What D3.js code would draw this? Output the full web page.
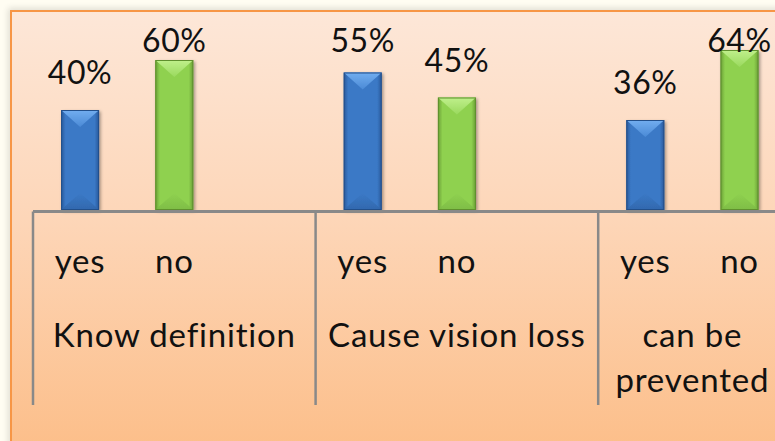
<!DOCTYPE html>
<html>
<head>
<meta charset="utf-8">
<script src="https://cdn.jsdelivr.net/npm/d3@7"></script>
<style>
  html, body { margin: 0; padding: 0; background: #fffdf2; overflow: hidden; }
  svg { display: block; font-family: Lato, "Open Sans", sans-serif; font-variant-ligatures: none; }
</style>
</head>
<body>
<script>
// chart values
var subLabels = ["yes", "no", "", "yes", "no", "", "yes", "no"];
var groupLabels = [["Know definition"], ["Cause vision loss"], ["can be", "prevented"]];
var groupStarts = [0, 3, 6];
var groupEnds = [3, 6, 8];
var yesValues = [40, 55, 36];
var noValues = [60, 45, 64];

var W = 775, H = 441;
var svg = d3.select("body").append("svg").attr("width", W).attr("height", H);
var defs = svg.append("defs");

// background gradient of the chart area
var bg = defs.append("linearGradient").attr("id", "bg").attr("x1", 0).attr("y1", 0).attr("x2", 0).attr("y2", 1);
bg.append("stop").attr("offset", "0%").attr("stop-color", "#fde7d8");
bg.append("stop").attr("offset", "45%").attr("stop-color", "#fdd6b8");
bg.append("stop").attr("offset", "100%").attr("stop-color", "#fcbc85");

var sh = defs.append("filter").attr("id", "outer").attr("x", "-10%").attr("y", "-10%").attr("width", "120%").attr("height", "120%");
sh.append("feGaussianBlur").attr("stdDeviation", 3);

var bs = defs.append("filter").attr("id", "barShadow").attr("x", "-30%").attr("y", "-10%").attr("width", "160%").attr("height", "120%");
bs.append("feDropShadow").attr("dx", 1.5).attr("dy", 1.5).attr("stdDeviation", 1.5).attr("flood-color", "#000").attr("flood-opacity", 0.35);

function sideGrad(id, edge, mid) {
	var g = defs.append("linearGradient").attr("id", id).attr("x1", 0).attr("y1", 0).attr("x2", 1).attr("y2", 0);
	g.append("stop").attr("offset", "0%").attr("stop-color", edge);
	g.append("stop").attr("offset", "12%").attr("stop-color", mid);
	g.append("stop").attr("offset", "88%").attr("stop-color", mid);
	g.append("stop").attr("offset", "100%").attr("stop-color", edge);
}
function vGrad(id, c1, c2) {
	var g = defs.append("linearGradient").attr("id", id).attr("x1", 0).attr("y1", 0).attr("x2", 0).attr("y2", 1);
	g.append("stop").attr("offset", "0%").attr("stop-color", c1);
	g.append("stop").attr("offset", "100%").attr("stop-color", c2);
}
sideGrad("blueBody", "#28589a", "#3b79c6");
sideGrad("greenBody", "#6a9e34", "#8fd150");
vGrad("blueTop", "#72aef0", "#4b8ad6");
vGrad("greenTop", "#c0f08c", "#9ad95e");
vGrad("blueBot", "#3b79c6", "#2f64a8");
vGrad("greenBot", "#8fd150", "#7ab843");

// outer frame
svg.append("rect").attr("x", 8).attr("y", 8).attr("width", W + 20).attr("height", H + 20)
	.attr("fill", "#000").attr("opacity", 0.12).attr("filter", "url(#outer)");
svg.append("rect").attr("x", 11).attr("y", 11).attr("width", W + 20).attr("height", H + 20)
	.attr("fill", "url(#bg)").attr("stroke", "#f79646").attr("stroke-width", 2);

// scales
var x = d3.scaleBand().domain(d3.range(subLabels.length)).range([33, 786.6]);
var y = d3.scaleLinear().domain([0, 84]).range([210, 0]);
var barW = 38;
var axisY = 211.5, axisBottom = 405;

var bars = [];
groupStarts.forEach(function (s, i) {
	bars.push({slot: s, value: yesValues[i], kind: "blue"});
	bars.push({slot: s + 1, value: noValues[i], kind: "green"});
});

var g = svg.append("g");

var bar = g.selectAll("g.bar").data(bars).enter().append("g").attr("class", "bar")
	.attr("filter", "url(#barShadow)");

bar.each(function (d) {
	var el = d3.select(this);
	var cx = x(d.slot) + x.bandwidth() / 2;
	var x0 = cx - barW / 2, x1 = cx + barW / 2;
	var top = y(d.value), base = y(0);
	var bev = 17;
	el.append("rect").attr("x", x0).attr("y", top).attr("width", barW).attr("height", base - top)
		.attr("fill", "url(#" + d.kind + "Body)");
	el.append("path")
		.attr("d", "M" + x0 + "," + base + "L" + x1 + "," + base + "L" + (x1 - 3) + "," + (base - 3) + "L" + cx + "," + (base - bev) + "L" + (x0 + 3) + "," + (base - 3) + "Z")
		.attr("fill", "url(#" + d.kind + "Bot)").attr("opacity", 0.8);
	el.append("path")
		.attr("d", "M" + x0 + "," + top + "L" + x1 + "," + top + "L" + cx + "," + (top + bev) + "Z")
		.attr("fill", "url(#" + d.kind + "Top)");
	el.append("rect").attr("x", x0 + 0.5).attr("y", top + 0.5).attr("width", barW - 1).attr("height", base - top - 1)
		.attr("fill", "none").attr("stroke", d.kind === "blue" ? "#244f8a" : "#5f8f2e").attr("stroke-width", 1);
});

// data labels (clamped near the top like the source)
g.selectAll("text.val").data(bars).enter().append("text").attr("class", "val")
	.attr("x", function (d) { return x(d.slot) + x.bandwidth() / 2; })
	.attr("y", function (d) { return Math.max(y(d.value) - 26, 52); })
	.attr("text-anchor", "middle")
	.attr("font-size", 32)
	.attr("letter-spacing", 0.6)
	.attr("fill", "#111")
	.text(function (d) { return d.value + "%"; });

// category axis
g.append("line").attr("x1", 33).attr("x2", 786.6).attr("y1", axisY).attr("y2", axisY)
	.attr("stroke", "#898989").attr("stroke-width", 3);

var dividers = groupStarts.concat([subLabels.length]);
g.selectAll("line.div").data(dividers).enter().append("line").attr("class", "div")
	.attr("x1", function (d) { return x(d) === undefined ? x.range()[1] : x(d); })
	.attr("x2", function (d) { return x(d) === undefined ? x.range()[1] : x(d); })
	.attr("y1", axisY).attr("y2", axisBottom)
	.attr("stroke", "#898989").attr("stroke-width", 2.5);

g.selectAll("text.sub").data(subLabels).enter().append("text").attr("class", "sub")
	.attr("x", function (d, i) { return x(i) + x.bandwidth() / 2; })
	.attr("y", 273)
	.attr("text-anchor", "middle")
	.attr("font-size", 33)
	.attr("letter-spacing", 0.8)
	.attr("fill", "#111")
	.text(function (d) { return d; });

var gl = g.selectAll("text.grp").data(groupLabels).enter().append("text").attr("class", "grp")
	.attr("text-anchor", "middle")
	.attr("font-size", 33)
	.attr("letter-spacing", 0.8)
	.attr("fill", "#111");
gl.each(function (d, i) {
	var cx = (x(groupStarts[i]) + (groupEnds[i] < subLabels.length ? x(groupEnds[i]) : x.range()[1])) / 2;
	d3.select(this).selectAll("tspan").data(d).enter().append("tspan")
		.attr("x", cx)
		.attr("y", function (t, j) { return 347 + j * 45; })
		.text(function (t) { return t; });
});
</script>
</body>
</html>
